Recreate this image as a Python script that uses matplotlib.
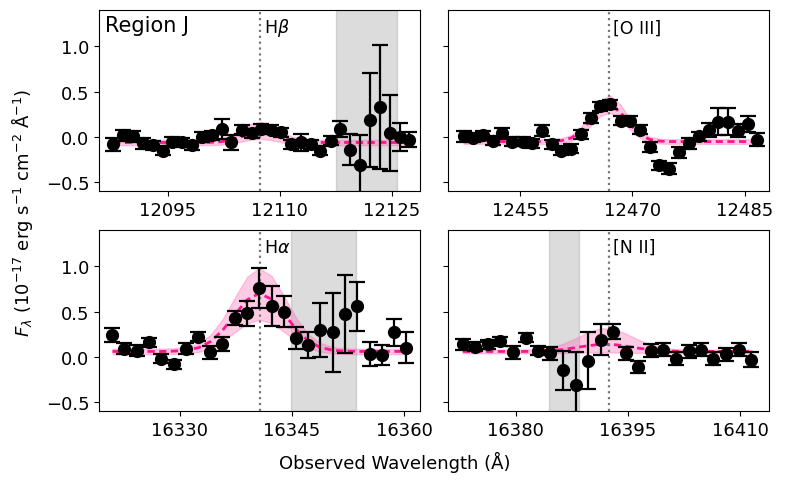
import numpy as np
import matplotlib.pyplot as plt

# H-beta window
hb_wave = [12087.7, 12089.0, 12090.3, 12091.7, 12093.0, 12094.3, 12095.6, 12096.9,
           12098.3, 12099.6, 12100.9, 12102.2, 12103.5, 12104.9, 12106.2, 12107.5,
           12108.8, 12110.2, 12111.5, 12112.8, 12114.1, 12115.4, 12116.8, 12118.1,
           12119.4, 12120.7, 12122.0, 12123.4, 12124.7, 12126.0, 12127.3]
hb_flux = [-0.08, 0.02, 0.01, -0.07, -0.09, -0.15, -0.05, -0.06, -0.09, 0.00, 0.02,
           0.09, -0.06, 0.08, 0.04, 0.09, 0.08, 0.05, -0.08, -0.06, -0.08, -0.15,
           -0.04, 0.09, -0.14, -0.31, 0.19, 0.33, 0.04, 0.00, -0.03]
hb_err = [0.07, 0.06, 0.06, 0.06, 0.05, 0.05, 0.05, 0.05, 0.05, 0.05, 0.05, 0.11,
          0.08, 0.05, 0.05, 0.05, 0.05, 0.05, 0.05, 0.09, 0.05, 0.05, 0.05, 0.09,
          0.17, 0.33, 0.52, 0.68, 0.42, 0.15, 0.08]
hb_model = [-0.06, -0.06, -0.06, -0.06, -0.06, -0.06, -0.06, -0.06, -0.06, -0.06,
            -0.058, -0.051, -0.032, 0.004, 0.038, 0.050, 0.029, -0.010, -0.039,
            -0.054, -0.059, -0.06, -0.06, -0.06, -0.06, -0.06, -0.06, -0.06, -0.06,
            -0.06, -0.06]
hb_lo = [-0.09, -0.09, -0.09, -0.09, -0.09, -0.09, -0.09, -0.09, -0.09, -0.09,
         -0.089, -0.084, -0.072, -0.049, -0.028, -0.020, -0.033, -0.058, -0.077,
         -0.086, -0.089, -0.09, -0.09, -0.09, -0.09, -0.09, -0.09, -0.09, -0.09,
         -0.09, -0.09]
hb_hi = [-0.03, -0.03, -0.03, -0.03, -0.03, -0.03, -0.03, -0.03, -0.03, -0.03,
         -0.026, -0.013, 0.021, 0.086, 0.148, 0.169, 0.132, 0.060, 0.008, -0.019,
         -0.027, -0.03, -0.03, -0.03, -0.03, -0.03, -0.03, -0.03, -0.03, -0.03, -0.03]
hb_line = 12107.3
hb_xlim = (12085.8, 12128.8)
hb_ticks = [12095, 12110, 12125]
hb_mask = (12117.5, 12125.7)

# [O III] window
o3_wave = [12447.4, 12448.7, 12450.0, 12451.3, 12452.6, 12453.9, 12455.3, 12456.6,
           12457.9, 12459.2, 12460.5, 12461.8, 12463.1, 12464.4, 12465.7, 12467.0,
           12468.4, 12469.7, 12471.0, 12472.3, 12473.6, 12474.9, 12476.2, 12477.5,
           12478.9, 12480.2, 12481.5, 12482.8, 12484.1, 12485.4, 12486.7]
o3_flux = [0.01, -0.01, 0.02, -0.04, 0.04, -0.05, -0.05, -0.07, 0.07, -0.08, -0.15,
           -0.13, 0.03, 0.21, 0.34, 0.36, 0.18, 0.18, 0.08, -0.11, -0.31, -0.35,
           -0.17, -0.07, 0.01, 0.08, 0.17, 0.17, 0.07, 0.14, -0.03]
o3_err = [0.06, 0.05, 0.05, 0.05, 0.06, 0.05, 0.05, 0.05, 0.06, 0.05, 0.05, 0.05,
          0.05, 0.05, 0.05, 0.05, 0.05, 0.05, 0.05, 0.05, 0.05, 0.06, 0.06, 0.06,
          0.05, 0.08, 0.15, 0.15, 0.07, 0.09, 0.07]
o3_model = [-0.05, -0.05, -0.05, -0.05, -0.05, -0.05, -0.05, -0.05, -0.05, -0.05,
            -0.040, -0.011, 0.062, 0.188, 0.316, 0.358, 0.272, 0.135, 0.027, -0.027,
            -0.045, -0.05, -0.05, -0.05, -0.05, -0.05, -0.05, -0.05, -0.05, -0.05, -0.05]
o3_lo = [-0.075, -0.075, -0.075, -0.075, -0.075, -0.075, -0.075, -0.075, -0.075,
         -0.075, -0.067, -0.043, 0.020, 0.125, 0.233, 0.269, 0.196, 0.081, -0.010,
         -0.055, -0.071, -0.075, -0.075, -0.075, -0.075, -0.075, -0.075, -0.075,
         -0.075, -0.075, -0.075]
o3_hi = [-0.025, -0.025, -0.025, -0.025, -0.025, -0.025, -0.025, -0.025, -0.025,
         -0.023, -0.014, 0.021, 0.108, 0.256, 0.408, 0.458, 0.356, 0.194, 0.067,
         0.003, -0.019, -0.025, -0.025, -0.025, -0.025, -0.025, -0.025, -0.025,
         -0.025, -0.025, -0.025]
o3_line = 12466.8
o3_xlim = (12445.3, 12488.3)
o3_ticks = [12455, 12470, 12485]
o3_mask = None

# H-alpha window
ha_wave = [16321.0, 16322.6, 16324.3, 16325.9, 16327.5, 16329.2, 16330.8, 16332.5,
           16334.1, 16335.7, 16337.4, 16339.0, 16340.6, 16342.3, 16343.9, 16345.6,
           16347.2, 16348.8, 16350.5, 16352.1, 16353.7, 16355.4, 16357.0, 16358.7,
           16360.3]
ha_flux = [0.24, 0.09, 0.07, 0.16, -0.02, -0.08, 0.09, 0.22, 0.05, 0.14, 0.43, 0.48,
           0.76, 0.56, 0.50, 0.21, 0.13, 0.30, 0.27, 0.47, 0.56, 0.03, 0.02, 0.27, 0.10]
ha_err = [0.08, 0.06, 0.06, 0.05, 0.05, 0.05, 0.06, 0.05, 0.07, 0.08, 0.08, 0.14,
          0.22, 0.22, 0.17, 0.12, 0.14, 0.30, 0.44, 0.43, 0.27, 0.13, 0.11, 0.15, 0.17]
ha_model = [0.06, 0.06, 0.06, 0.06, 0.06, 0.063, 0.072, 0.101, 0.168, 0.290, 0.470,
            0.629, 0.700, 0.637, 0.481, 0.300, 0.174, 0.104, 0.073, 0.063, 0.06,
            0.06, 0.06, 0.06, 0.06]
ha_lo = [0.03, 0.03, 0.03, 0.03, 0.03, 0.032, 0.037, 0.054, 0.094, 0.167, 0.274,
         0.368, 0.410, 0.372, 0.280, 0.173, 0.098, 0.056, 0.038, 0.032, 0.03, 0.03,
         0.03, 0.03, 0.03]
ha_hi = [0.09, 0.09, 0.09, 0.09, 0.09, 0.094, 0.106, 0.147, 0.240, 0.410, 0.660,
         0.881, 0.980, 0.892, 0.676, 0.424, 0.248, 0.151, 0.108, 0.094, 0.09, 0.09,
         0.09, 0.09, 0.09]
ha_line = 16340.7
ha_xlim = (16319.2, 16362.2)
ha_ticks = [16330, 16345, 16360]
ha_mask = (16344.9, 16353.6)

# [N II] window
n2_wave = [16372.9, 16374.6, 16376.3, 16377.9, 16379.6, 16381.3, 16383.0, 16384.6,
           16386.3, 16388.0, 16389.7, 16391.4, 16393.0, 16394.7, 16396.4, 16398.1,
           16399.7, 16401.4, 16403.1, 16404.8, 16406.4, 16408.1, 16409.8, 16411.5]
n2_flux = [0.14, 0.11, 0.14, 0.17, 0.05, 0.21, 0.07, 0.04, -0.15, -0.31, -0.04, 0.19,
           0.28, 0.04, -0.11, 0.07, 0.08, -0.02, 0.06, 0.08, -0.02, 0.03, 0.08, -0.03]
n2_err = [0.06, 0.05, 0.05, 0.05, 0.07, 0.05, 0.05, 0.07, 0.22, 0.36, 0.31, 0.17,
          0.08, 0.07, 0.07, 0.07, 0.07, 0.07, 0.07, 0.07, 0.07, 0.07, 0.07, 0.08]
n2_model = [0.06, 0.06, 0.06, 0.06, 0.06, 0.06, 0.063, 0.069, 0.081, 0.102, 0.124,
            0.139, 0.137, 0.119, 0.096, 0.078, 0.067, 0.062, 0.06, 0.06, 0.06, 0.06,
            0.06, 0.06]
n2_lo = [0.04, 0.04, 0.04, 0.04, 0.04, 0.04, 0.04, 0.041, 0.042, 0.045, 0.047, 0.049,
         0.049, 0.047, 0.045, 0.042, 0.041, 0.04, 0.04, 0.04, 0.04, 0.04, 0.04, 0.04]
n2_hi = [0.08, 0.08, 0.08, 0.08, 0.08, 0.082, 0.089, 0.106, 0.144, 0.205, 0.273,
         0.316, 0.310, 0.258, 0.189, 0.133, 0.101, 0.086, 0.082, 0.08, 0.08, 0.08,
         0.08, 0.08]
n2_line = 16392.4
n2_xlim = (16370.9, 16413.9)
n2_ticks = [16380, 16395, 16410]
n2_mask = (16384.4, 16388.5)

panels = [
    (hb_wave, hb_flux, hb_err, hb_model, hb_lo, hb_hi, hb_line, r'H$\beta$', hb_xlim, hb_ticks, hb_mask),
    (o3_wave, o3_flux, o3_err, o3_model, o3_lo, o3_hi, o3_line, '[O III]', o3_xlim, o3_ticks, o3_mask),
    (ha_wave, ha_flux, ha_err, ha_model, ha_lo, ha_hi, ha_line, r'H$\alpha$', ha_xlim, ha_ticks, ha_mask),
    (n2_wave, n2_flux, n2_err, n2_model, n2_lo, n2_hi, n2_line, '[N II]', n2_xlim, n2_ticks, n2_mask),
]

fig, axes = plt.subplots(2, 2, figsize=(7.89, 4.85), dpi=100, sharey=True)
fig.subplots_adjust(left=0.1255, right=0.975, top=0.977, bottom=0.150,
                    wspace=0.085, hspace=0.213)

for ax, (w, f, e, m, lo, hi, line, label, xlim, ticks, mask) in zip(axes.flat, panels):
    if mask is not None:
        ax.axvspan(mask[0], mask[1], color='gray', alpha=0.27, zorder=0)
    ax.fill_between(w, lo, hi, color='hotpink', alpha=0.35, lw=1.0, zorder=1)
    ax.plot(w, m, ls='--', dashes=(2.6, 1.6), color='#ff1493', lw=2, zorder=2)
    ax.axvline(line, color='#777777', ls=':', lw=1.6, zorder=3)
    ax.errorbar(w, f, yerr=e, fmt='o', color='k', ms=8.5, capsize=5.5,
                elinewidth=1.6, capthick=1.6, zorder=5)
    ax.text(line + 0.6, 1.21, label, fontsize=12.5, va='center', ha='left')
    ax.set_xlim(xlim)
    ax.set_xticks(ticks)
    ax.set_ylim(-0.6, 1.4)
    ax.set_yticks([-0.5, 0.0, 0.5, 1.0])
    ax.tick_params(labelsize=13)

axes[0, 0].text(0.02, 0.92, 'Region J', transform=axes[0, 0].transAxes,
                fontsize=15, va='center', ha='left')

fig.text(0.028, 0.561, r'$F_\lambda$ ($10^{-17}$ erg s$^{-1}$ cm$^{-2}$ Å$^{-1}$)',
         rotation=90, va='center', ha='center', fontsize=13)
fig.text(0.5, 0.047, 'Observed Wavelength (Å)', ha='center', va='center', fontsize=13)

fig.savefig('out.png', dpi=100)
